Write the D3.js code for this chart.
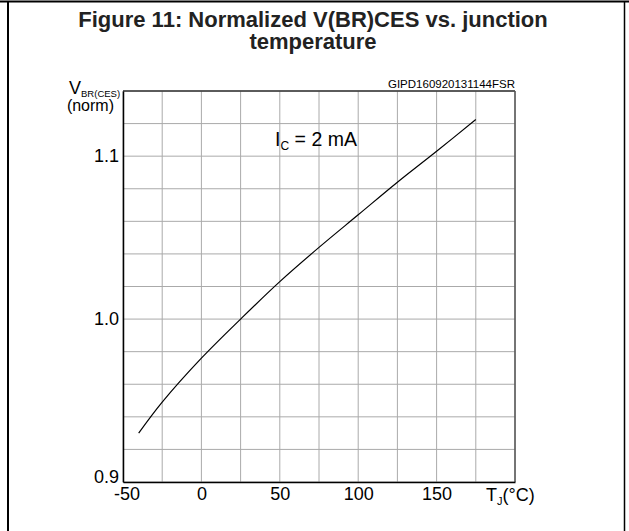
<!DOCTYPE html>
<html>
<head>
<meta charset="utf-8">
<script src="https://cdn.jsdelivr.net/npm/d3@7"></script>
<style>
  body { margin: 0; background: #fff; }
  svg { display: block; font-family: "Liberation Sans", Arial, sans-serif; }
</style>
</head>
<body>
<div id="chart-area"></div>
<script>
// values
const temps = [-40, -25, 0, 25, 50, 75, 100, 125, 150, 175];
const vbr = [0.930, 0.949, 0.976, 1.000, 1.023, 1.044, 1.064, 1.084, 1.103, 1.1225];
const xTicks = [-50, 0, 50, 100, 150];
const yTicks = [0.9, 1.0, 1.1];
const xGrid = d3.range(-50, 201, 25);
const yGrid = d3.range(0, 13).map(i => 0.9 + i * 0.02);

const width = 629;
const height = 531;
const margin = {left: 123, top: 91, right: 114, bottom: 49};
const innerWidth = width - margin.left - margin.right;
const innerHeight = height - margin.top - margin.bottom;

const svg = d3.select("#chart-area")
    .append("svg")
    .attr("width", width)
    .attr("height", height);

// page frame
svg.append("line").attr("x1", 0).attr("x2", width).attr("y1", 1.5).attr("y2", 1.5)
    .attr("stroke", "#000").attr("stroke-width", 2);
svg.append("line").attr("x1", 8).attr("x2", 8).attr("y1", 1).attr("y2", height)
    .attr("stroke", "#000").attr("stroke-width", 2);
svg.append("line").attr("x1", 624.5).attr("x2", 624.5).attr("y1", 1).attr("y2", height)
    .attr("stroke", "#000").attr("stroke-width", 1.5);

// title
const title = svg.append("text")
    .attr("text-anchor", "middle")
    .attr("font-weight", "bold")
    .attr("font-size", 22)
    .attr("fill", "#222");
title.append("tspan").attr("x", 313).attr("y", 27).text("Figure 11: Normalized V(BR)CES vs. junction");
title.append("tspan").attr("x", 313).attr("y", 49).text("temperature");

const g = svg.append("g")
    .attr("transform", `translate(${margin.left},${margin.top})`);

const xScale = d3.scaleLinear().domain([-50, 200]).range([0, innerWidth]);
const yScale = d3.scaleLinear().domain([0.9, 1.14]).range([innerHeight, 0]);

// grid
g.append("g").selectAll("line").data(xGrid).join("line")
    .attr("x1", d => xScale(d)).attr("x2", d => xScale(d))
    .attr("y1", 0).attr("y2", innerHeight)
    .attr("stroke", "#aaa").attr("stroke-width", 1);
g.append("g").selectAll("line").data(yGrid).join("line")
    .attr("x1", 0).attr("x2", innerWidth)
    .attr("y1", d => yScale(d)).attr("y2", d => yScale(d))
    .attr("stroke", "#aaa").attr("stroke-width", 1);

// plot frame
g.append("line").attr("x1", 0).attr("x2", innerWidth).attr("y1", 0).attr("y2", 0)
    .attr("stroke", "#333").attr("stroke-width", 1.5);
g.append("line").attr("x1", innerWidth).attr("x2", innerWidth).attr("y1", 0).attr("y2", innerHeight)
    .attr("stroke", "#555").attr("stroke-width", 1.5);

// axes
const xAxisGroup = g.append("g")
    .attr("transform", `translate(0,${innerHeight})`)
    .call(d3.axisBottom(xScale).tickValues(xTicks).tickSize(0).tickPadding(5)
        .tickFormat(d => String(d)));
const yAxisGroup = g.append("g")
    .call(d3.axisLeft(yScale).tickValues(yTicks).tickSize(0).tickPadding(4)
        .tickFormat(d3.format(".1f")));

[xAxisGroup, yAxisGroup].forEach(ax => {
    ax.select(".domain").attr("stroke", "#000").attr("stroke-width", 1.5);
    ax.selectAll("text")
        .attr("font-family", "Liberation Sans, Arial, sans-serif")
        .attr("font-size", 18)
        .attr("fill", "#000");
});
xAxisGroup.selectAll(".tick text").filter(d => d < 0).attr("dx", "0.2em");
yAxisGroup.selectAll(".tick text").filter(d => d === 0.9).attr("dy", "0.02em");

// curve
const line = d3.line()
    .x((d, i) => xScale(temps[i]))
    .y(d => yScale(d))
    .curve(d3.curveCatmullRom);
g.append("path")
    .datum(vbr)
    .attr("d", line)
    .attr("fill", "none")
    .attr("stroke", "#000")
    .attr("stroke-width", 1.2);

// annotation
const ic = g.append("text")
    .attr("x", xScale(47))
    .attr("y", yScale(1.106))
    .attr("font-size", 19.5);
ic.append("tspan").text("I");
ic.append("tspan").attr("font-size", 12).attr("dy", 4).text("C");
ic.append("tspan").attr("dy", -4).text(" = 2 mA");

// code reference
svg.append("text")
    .attr("x", margin.left + innerWidth)
    .attr("y", margin.top - 3)
    .attr("text-anchor", "end")
    .attr("font-size", 11.5)
    .text("GIPD160920131144FSR");

// y label
const yLabel = svg.append("text").attr("font-size", 18);
yLabel.append("tspan").attr("x", 69).attr("y", 94).text("V");
yLabel.append("tspan").attr("font-size", 9.5).attr("dy", 3).text("BR(CES)");
svg.append("text")
    .attr("x", 114)
    .attr("y", 111)
    .attr("text-anchor", "end")
    .attr("font-size", 16)
    .text("(norm)");

// x label
const xLabel = svg.append("text")
    .attr("x", 486)
    .attr("y", margin.top + innerHeight + 19)
    .attr("font-size", 18);
xLabel.append("tspan").text("T");
xLabel.append("tspan").attr("font-size", 11).attr("dy", 4).text("J");
xLabel.append("tspan").attr("dy", -4).text("(°C)");
</script>
</body>
</html>
